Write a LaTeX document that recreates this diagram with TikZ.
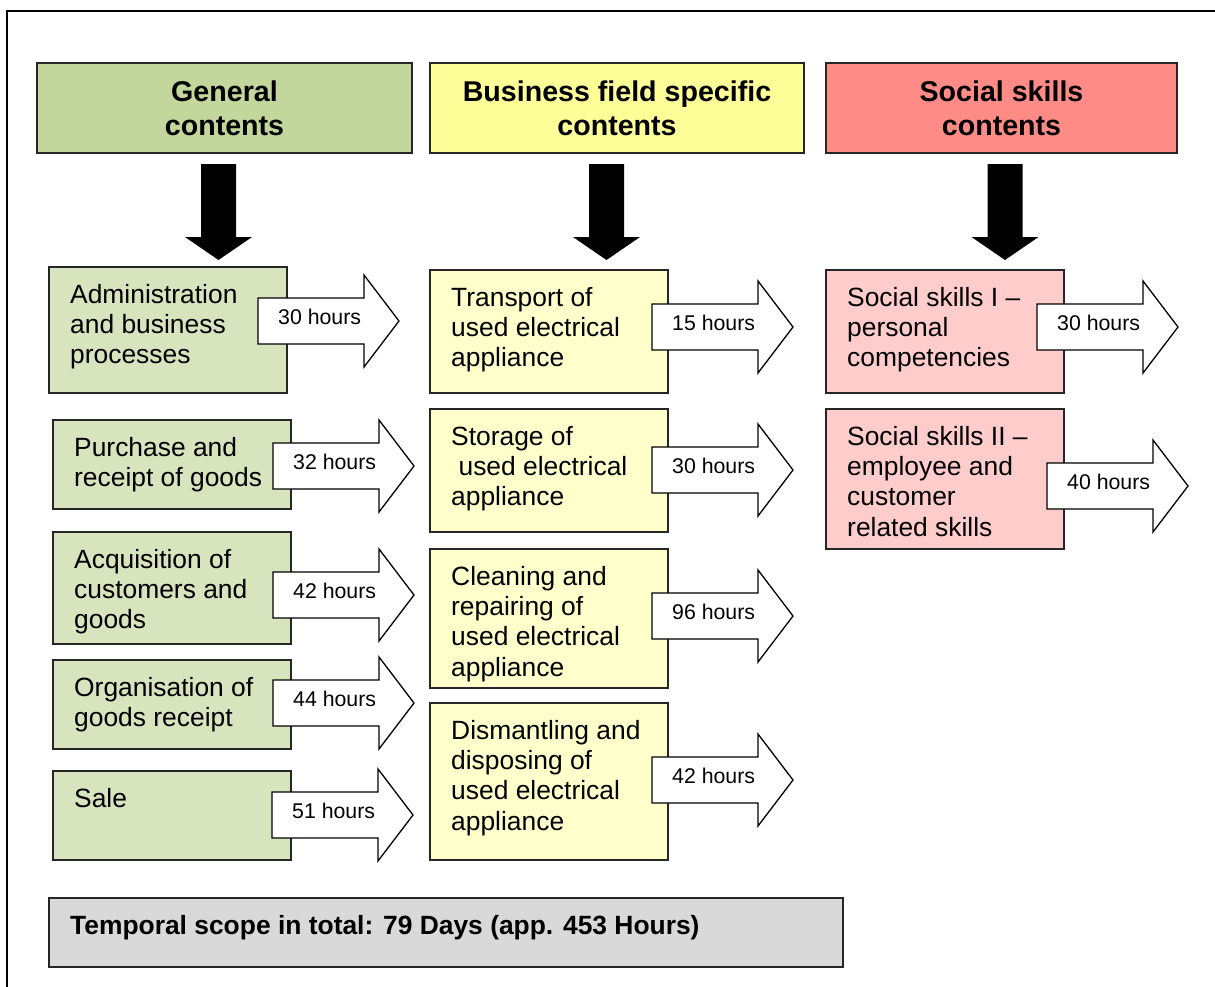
\documentclass[tikz,border=0pt]{standalone}
\usepackage{fontspec}
\setmainfont{Liberation Sans}
\definecolor{hgreen}{HTML}{C3D69B}
\definecolor{hyellow}{HTML}{FFFF99}
\definecolor{hred}{HTML}{FF8B87}
\definecolor{lgreen}{HTML}{D7E4BD}
\definecolor{lyellow}{HTML}{FFFFCC}
\definecolor{lred}{HTML}{FFCCCC}
\definecolor{lgray}{HTML}{D9D9D9}
\tikzset{
  boxbase/.style={draw=black!85, line width=1.4pt, inner sep=0pt, outer sep=0pt, rectangle, anchor=north west},
  hdr/.style={boxbase, align=center, font=\bfseries\fontsize{28.6}{34}\selectfont},
  bodytext/.style={inner sep=0pt, anchor=base west, font=\fontsize{26.4}{30.4}\selectfont},
  hourtext/.style={inner sep=0pt, anchor=base west, font=\fontsize{21.3}{24}\selectfont},
  harrow/.style={draw=black, line width=1.3pt, fill=white, line join=miter},
  downarrow/.style={fill=black},
}
\newcommand\cbox[7]{%
  \node[boxbase, fill=#2, minimum width={#5-#3}, minimum height={#6-#4}] (#1) at (#3,#4) {};
  \node[bodytext] (#1t) at ({#3+21},{#4+36}) {\parbox[t]{320pt}{#7}};
}
\newcommand\hrsarrow[4]{%
  \draw[harrow] (#2,{#3-23}) -- ({#2+106},{#3-23}) -- ({#2+106},{#3-46}) -- ({#2+141},#3)
     -- ({#2+106},{#3+46}) -- ({#2+106},{#3+23}) -- (#2,{#3+23}) -- cycle;
  \node[hourtext] (#1) at ({#2+20},{#3+3}) {#4};
}
\newcommand\blackdown[1]{%
  \fill[downarrow] ({#1-17.5},164) -- ({#1+17.5},164) -- ({#1+17.5},237) -- ({#1+33.5},237)
     -- (#1,260) -- ({#1-33.5},237) -- ({#1-17.5},237) -- cycle;
}
\begin{document}
\begin{tikzpicture}[x=1pt,y=-1pt]
\useasboundingbox (0,0) rectangle (1215,986);
\clip (0,0) rectangle (1215,986);
\fill[white] (0,0) rectangle (1215,986);
\draw[line width=2pt] (7,1100) -- (7,11) -- (1300,11);

% headers
\node[hdr, fill=hgreen, minimum width=375, minimum height=90] (h1) at (37,63) {General\\contents};
\node[hdr, fill=hyellow, minimum width=374, minimum height=90] (h2) at (430,63) {Business field specific\\contents};
\node[hdr, fill=hred, minimum width=351, minimum height=90] (h3) at (826,63) {Social skills\\contents};

\blackdown{218.5}
\blackdown{606.5}
\blackdown{1005}

% left column
\cbox{g1}{lgreen}{49}{267}{287}{393}{Administration\\and business\\processes}
\cbox{g2}{lgreen}{53}{420}{291}{509}{Purchase and\\receipt of goods}
\cbox{g3}{lgreen}{53}{532}{291}{644}{Acquisition of\\customers and\\goods}
\cbox{g4}{lgreen}{53}{660}{291}{749}{Organisation of\\goods receipt}
\cbox{g5}{lgreen}{53}{771}{291}{860}{Sale}

% middle column
\cbox{y1}{lyellow}{430}{270}{668}{393}{Transport of\\used electrical\\appliance}
\cbox{y2}{lyellow}{430}{409}{668}{532}{Storage of\\\hspace*{0.28em}used electrical\\appliance}
\cbox{y3}{lyellow}{430}{549}{668}{688}{Cleaning and\\repairing of\\used electrical\\appliance}
\cbox{y4}{lyellow}{430}{703}{668}{860}{Dismantling and\\disposing of\\used electrical\\appliance}

% right column
\cbox{r1}{lred}{826}{270}{1064}{393}{Social skills I –\\personal\\competencies}
\cbox{r2}{lred}{826}{409}{1064}{549}{Social skills II –\\employee and\\customer\\related skills}

% hour arrows
\hrsarrow{a1}{258}{321}{30 hours}
\hrsarrow{a2}{273}{466}{32 hours}
\hrsarrow{a3}{273}{595}{42 hours}
\hrsarrow{a4}{273}{703}{44 hours}
\hrsarrow{a5}{272}{815}{51 hours}
\hrsarrow{b1}{652}{327}{15 hours}
\hrsarrow{b2}{652}{470}{30 hours}
\hrsarrow{b3}{652}{616}{96 hours}
\hrsarrow{b4}{652}{780}{42 hours}
\hrsarrow{c1}{1037}{327}{30 hours}
\hrsarrow{c2}{1047}{486}{40 hours}

% total
\node[boxbase, fill=lgray, minimum width=794, minimum height=69] (tot) at (49,898) {};
\node[bodytext, font=\bfseries\fontsize{26.4}{30.4}\selectfont] (tott) at (70,934) {Temporal scope in total: 79 Days (app. 453 Hours)};
\end{tikzpicture}
\end{document}
